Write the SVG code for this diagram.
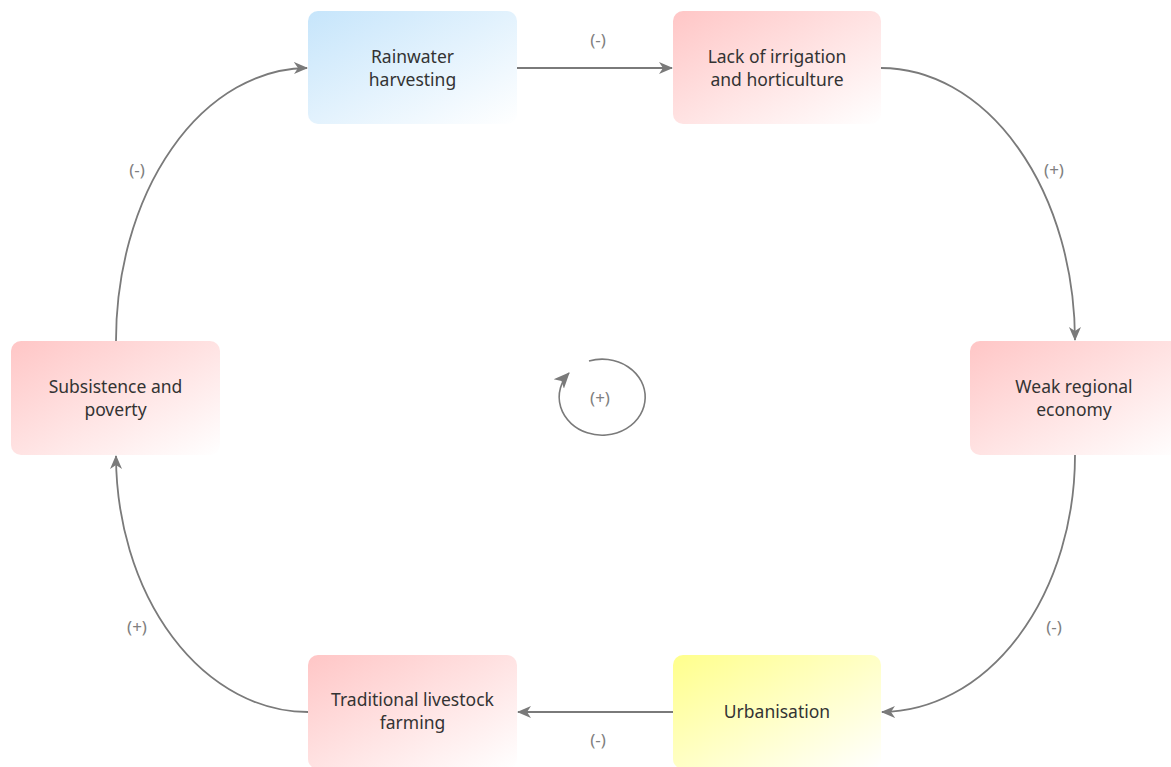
<svg xmlns="http://www.w3.org/2000/svg" width="1171" height="767" viewBox="0 0 1171 767">
  <style>
    .box { stroke: none; }
    .lbl { font-family: "Noto Sans", "Open Sans", sans-serif; font-size: 17.5px; fill: #333; text-anchor: middle; }
    .pol { font-family: "Noto Sans", "Open Sans", sans-serif; font-size: 17px; fill: #808080; text-anchor: middle; }
    .edge { fill: none; stroke: #7a7a7a; stroke-width: 1.8; marker-end: url(#arrow); }
  </style>
  <defs>
    <linearGradient id="gRed" x1="0" y1="0" x2="1" y2="1">
      <stop offset="0" stop-color="#ffc6c6"/>
      <stop offset="1" stop-color="#ffffff"/>
    </linearGradient>
    <linearGradient id="gBlue" x1="0" y1="0" x2="1" y2="1">
      <stop offset="0" stop-color="#c6e5fb"/>
      <stop offset="1" stop-color="#ffffff"/>
    </linearGradient>
    <linearGradient id="gYellow" x1="0" y1="0" x2="1" y2="1">
      <stop offset="0" stop-color="#ffff8c"/>
      <stop offset="1" stop-color="#ffffff"/>
    </linearGradient>
    <marker id="arrow" viewBox="0 0 14 14" refX="13" refY="7" markerWidth="14" markerHeight="14" markerUnits="userSpaceOnUse" orient="auto">
      <path d="M0,1 L14,7 L0,13 L4,7 Z" fill="#7a7a7a"/>
    </marker>
    <marker id="loopArrow" viewBox="0 0 16 16" refX="15" refY="8" markerWidth="16" markerHeight="16" markerUnits="userSpaceOnUse" orient="auto">
      <path d="M0,1 L16,8 L0,15 L4,8 Z" fill="#7a7a7a"/>
    </marker>
  </defs>

  <g id="connectors">
    <path class="edge" d="M517,68 L672,68"/>
    <path class="edge" d="M881,68 A194,273 0 0 1 1075,340"/>
    <path class="edge" d="M1075,455 A194,257 0 0 1 882,712"/>
    <path class="edge" d="M673,712 L518,712"/>
    <path class="edge" d="M308,712 A192,257 0 0 1 116,456"/>
    <path class="edge" d="M116,341 A192,273 0 0 1 307,68"/>
    <text class="pol" x="598" y="46">(-)</text>
    <text class="pol" x="1054" y="176">(+)</text>
    <text class="pol" x="1054" y="633">(-)</text>
    <text class="pol" x="598" y="746">(-)</text>
    <text class="pol" x="137" y="633">(+)</text>
    <text class="pol" x="137" y="176">(-)</text>
  </g>

  <g id="loop">
    <path d="M589,361 A43,38 0 1 1 569,373" fill="none" stroke="#7a7a7a" stroke-width="1.6" marker-end="url(#loopArrow)"/>
    <text class="pol" x="600" y="404">(+)</text>
  </g>

  <g id="rainwater">
    <rect class="box" x="308" y="11" width="209" height="113" rx="10" fill="url(#gBlue)"/>
    <text class="lbl" x="412.5" y="63">Rainwater</text>
    <text class="lbl" x="412.5" y="86">harvesting</text>
  </g>
  <g id="irrigation">
    <rect class="box" x="673" y="11" width="208" height="113" rx="10" fill="url(#gRed)"/>
    <text class="lbl" x="777" y="63">Lack of irrigation</text>
    <text class="lbl" x="777" y="86">and horticulture</text>
  </g>
  <g id="economy">
    <rect class="box" x="970" y="341" width="215" height="114" rx="10" fill="url(#gRed)"/>
    <text class="lbl" x="1074" y="393">Weak regional</text>
    <text class="lbl" x="1074" y="416">economy</text>
  </g>
  <g id="urbanisation">
    <rect class="box" x="673" y="655" width="208" height="114" rx="10" fill="url(#gYellow)"/>
    <text class="lbl" x="777" y="718">Urbanisation</text>
  </g>
  <g id="livestock">
    <rect class="box" x="308" y="655" width="209" height="114" rx="10" fill="url(#gRed)"/>
    <text class="lbl" x="412.5" y="706">Traditional livestock</text>
    <text class="lbl" x="412.5" y="729">farming</text>
  </g>
  <g id="subsistence">
    <rect class="box" x="11" y="341" width="209" height="114" rx="10" fill="url(#gRed)"/>
    <text class="lbl" x="115.5" y="393">Subsistence and</text>
    <text class="lbl" x="115.5" y="416">poverty</text>
  </g>
</svg>
